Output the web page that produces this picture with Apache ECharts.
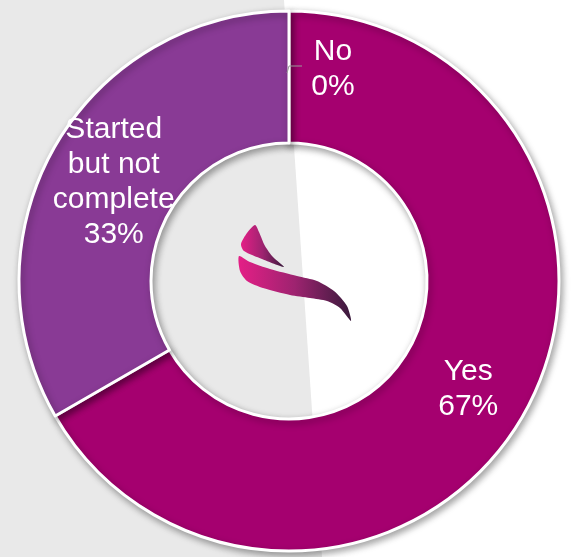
<!DOCTYPE html>
<html>
<head>
<meta charset="utf-8">
<script src="https://cdn.jsdelivr.net/npm/echarts@6/dist/echarts.min.js"></script>
<style>
html,body{margin:0;padding:0;background:#ffffff;}
#chart{width:573px;height:557px;}
</style>
</head>
<body>
<div id="chart"></div>
<script>
var categories = ['No', 'Yes', 'Started\nbut not\ncomplete'];
var values = [0, 2, 1];
var colors = ['#A5006F', '#A5006F', '#893A95'];

var chart = echarts.init(document.getElementById('chart'), null, {renderer: 'canvas'});

var labelOffsets = [[44, -5], [0, 5], [4, 5]];
var data = categories.map(function (c, i) {
  return {name: c, value: values[i], itemStyle: {color: colors[i]}, label: {offset: labelOffsets[i]}};
});

var logoFill = {type: 'linear', x: 0, y: 0, x2: 1, y2: 0, global: false,
  colorStops: [{offset: 0, color: '#E41F86'}, {offset: 0.5, color: '#9E2370'}, {offset: 1, color: '#3A1A3C'}]};

var option = {
  backgroundColor: '#ffffff',
  animation: false,
  graphic: [
    {type: 'polygon', z: -10, silent: true, shape: {points: [[0,0],[284,0],[322,557],[0,557]]}, style: {fill: '#e9e9e9'}},
    {type: 'polygon', z: 100, silent: true,
      shape: {smooth: 0.25, points: [[255,225],[247,233],[241,244],[244,251],[262,259],[284,267],[273,257],[265,246],[259,232]]},
      style: {fill: logoFill}},
    {type: 'polygon', z: 100, silent: true,
      shape: {smooth: 0.25, points: [[239,256],[250,262],[270,269],[297,276],[317,281],[334,291],[347,306],[351,321],[340,308],[327,301],[310,298],[290,295],[263,288],[247,281],[240,271]]},
      style: {fill: logoFill}},
    {type: 'polyline', z: 100, silent: true, shape: {points: [[287,73],[289,66],[302,66]]}, style: {stroke: '#9a9a9a', lineWidth: 1, fill: null}}
  ],
  series: [{
    type: 'pie',
    center: [289, 281],
    radius: [138, 270],
    startAngle: 90,
    clockwise: true,
    minAngle: 0,
    avoidLabelOverlap: false,
    percentPrecision: 0,
    itemStyle: {
      borderColor: '#ffffff',
      borderWidth: 3,
      shadowBlur: 7,
      shadowColor: 'rgba(0,0,0,0.35)',
      shadowOffsetX: 2,
      shadowOffsetY: 3
    },
    label: {
      show: true,
      position: 'inside',
      formatter: '{b}\n{d}%',
      color: '#ffffff',
      fontFamily: '"Liberation Sans", Arial, sans-serif',
      fontSize: 30,
      lineHeight: 35,
      align: 'center'
    },
    labelLine: {show: false},
    emphasis: {disabled: true},
    data: data
  }]
};
chart.setOption(option);
</script>
</body>
</html>
